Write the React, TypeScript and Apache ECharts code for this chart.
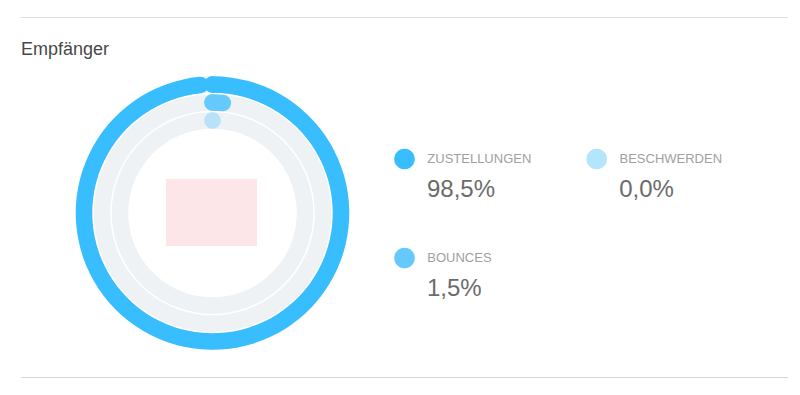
import React, { useEffect, useRef } from 'react';
import * as echarts from 'echarts';

const chartTitle = 'Empfänger';
// rings, from the inner one to the outer one
const categories = ['Beschwerden', 'Bounces', 'Zustellungen'];
const labels = ['BESCHWERDEN', 'BOUNCES', 'ZUSTELLUNGEN'];
const values = [0.0, 1.5, 98.5];
const ringColors = ['#a9ddf7', '#66c9fc', '#38bdff'];
const legendColors = ['#b3e5fc', '#66c9fc', '#38bdff'];
// legend reading order
const legendOrder = ['Zustellungen', 'Beschwerden', 'Bounces'];

const FONT = '"Liberation Sans", Arial, Helvetica, sans-serif';
const legendPos: Record<string, [number, number]> = {
  Zustellungen: [404.5, 159],
  Beschwerden: [596.7, 159],
  Bounces: [404.5, 258],
};

const fmt = (v: number) => v.toFixed(1).replace('.', ',') + '%';

export default function App() {
  const ref = useRef<HTMLDivElement>(null);
  useEffect(() => {
    if (!ref.current) return;
    const chart = echarts.init(ref.current, null, { renderer: 'svg' });

    const legendEls: any[] = [];
    legendOrder.forEach((name) => {
      const i = categories.indexOf(name);
      const [cx, cy] = legendPos[name];
      legendEls.push({
        type: 'circle',
        shape: { cx, cy, r: 10.3 },
        style: { fill: legendColors[i] },
        silent: true,
      });
      legendEls.push({
        type: 'text',
        x: cx + 22.8,
        y: cy - 0.3,
        style: {
          text: labels[i],
          font: `13px ${FONT}`,
          fill: '#a0a0a0',
          verticalAlign: 'middle',
          align: 'left',
        },
        silent: true,
      });
      legendEls.push({
        type: 'text',
        x: cx + 22.5,
        y: cy + 29.5,
        style: {
          text: fmt(values[i]),
          font: `24px ${FONT}`,
          fill: '#6b6b6b',
          verticalAlign: 'middle',
          align: 'left',
        },
        silent: true,
      });
    });

    chart.setOption({
      animation: false,
      polar: { center: [212.5, 213], radius: [83.5, 137.5] },
      angleAxis: {
        type: 'value',
        min: 0,
        max: 100,
        startAngle: 90,
        clockwise: true,
        show: false,
        axisLine: { show: false },
        splitLine: { show: false },
        axisTick: { show: false },
        axisLabel: { show: false },
      },
      radiusAxis: {
        type: 'category',
        data: categories,
        show: false,
        axisLine: { show: false },
        splitLine: { show: false },
        axisTick: { show: false },
        axisLabel: { show: false },
      },
      series: [
        {
          type: 'bar',
          coordinateSystem: 'polar',
          data: values.map((v, i) => ({ value: v, itemStyle: { color: ringColors[i] } })),
          barWidth: 16.5,
          roundCap: true,
          showBackground: true,
          backgroundStyle: { color: '#eef2f5' },
          silent: true,
          z: 2,
        },
        {
          // start cap of each ring (visible on its own when the value is 0)
          type: 'scatter',
          coordinateSystem: 'polar',
          symbol: 'circle',
          symbolSize: 16.5,
          data: categories.map((c, i) => ({ value: [i, 0], itemStyle: { color: ringColors[i] } })),
          silent: true,
          z: 3,
        },
      ],
      graphic: [
        {
          type: 'line',
          shape: { x1: 21, y1: 17.5, x2: 788, y2: 17.5 },
          style: { stroke: '#d6dde3', lineWidth: 1 },
          silent: true,
        },
        {
          type: 'line',
          shape: { x1: 21, y1: 377.5, x2: 788, y2: 377.5 },
          style: { stroke: '#d3d8dd', lineWidth: 1 },
          silent: true,
        },
        {
          type: 'text',
          x: 21,
          y: 48.5,
          style: {
            text: chartTitle,
            font: `18px ${FONT}`,
            fill: '#484848',
            verticalAlign: 'middle',
            align: 'left',
          },
          silent: true,
        },
        {
          type: 'rect',
          shape: { x: 166, y: 179, width: 91, height: 67 },
          style: { fill: '#fde6e7' },
          silent: true,
        },
        ...legendEls,
      ],
    });
    return () => chart.dispose();
  }, []);
  return (
    <div
      ref={ref}
      style={{ position: 'fixed', left: 0, top: 0, width: 800, height: 395, background: '#fff' }}
    />
  );
}
